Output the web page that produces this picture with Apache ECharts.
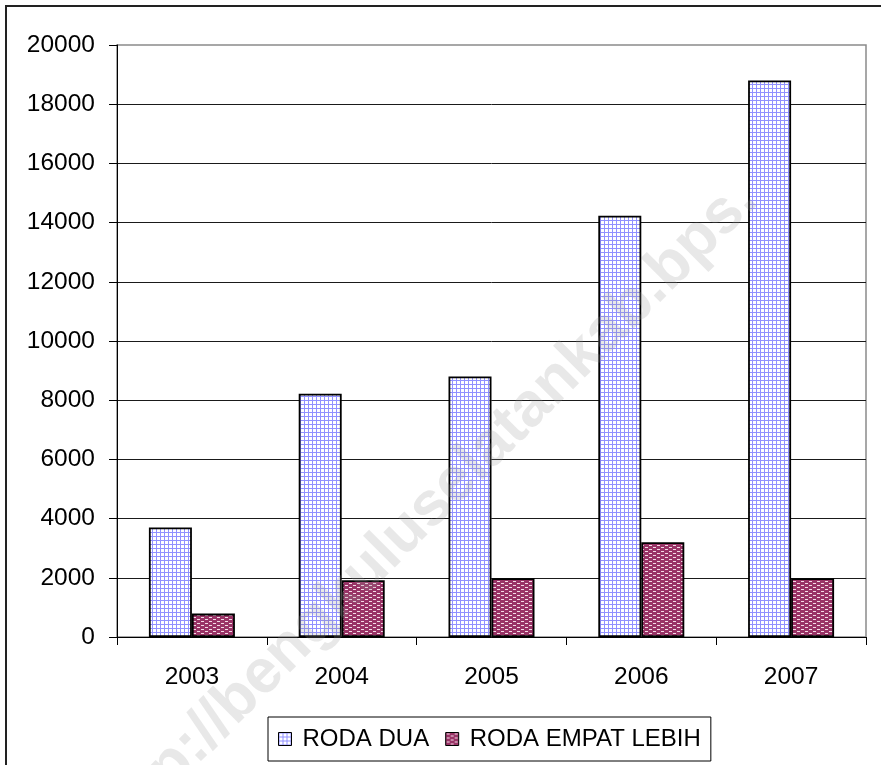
<!DOCTYPE html>
<html>
<head>
<meta charset="utf-8">
<script src="https://cdn.jsdelivr.net/npm/echarts@6/dist/echarts.min.js"></script>
<style>
html,body{margin:0;padding:0;background:#fff;}
#c{width:881px;height:765px;}
</style>
</head>
<body>
<div id="c"></div>
<script>
var categories = ['2003', '2004', '2005', '2006', '2007'];
var rodaDua = [3700, 8220, 8800, 14230, 18800];
var rodaEmpat = [790, 1920, 1985, 3200, 1985];
var seriesNames = ['RODA DUA', 'RODA EMPAT LEBIH'];
var yTicks = { min: 0, max: 20000, interval: 2000 };
var watermarkText = 'http://bengkuluselatankab.bps.';

function gridTile() {
  var c = document.createElement('canvas');
  c.width = 4; c.height = 4;
  var g = c.getContext('2d');
  g.fillStyle = '#ffffff'; g.fillRect(0, 0, 4, 4);
  g.fillStyle = '#9191ff';
  g.fillRect(0, 0, 4, 1);
  g.fillRect(0, 0, 1, 4);
  return c;
}
function dashTile() {
  var c = document.createElement('canvas');
  c.width = 8; c.height = 4;
  var g = c.getContext('2d');
  g.fillStyle = '#993366'; g.fillRect(0, 0, 8, 4);
  g.fillStyle = '#f4dbe6';
  g.fillRect(1, 1, 3, 1);
  g.fillRect(5, 3, 3, 1);
  return c;
}

var font = "'Liberation Sans', Arial, sans-serif";
var chart = echarts.init(document.getElementById('c'), null, { renderer: 'canvas' });
chart.setOption({
  animation: false,
  backgroundColor: '#ffffff',
  grid: {
    left: 117, right: 15, top: 45, bottom: 128,
    show: true, borderColor: '#8a8a8a', borderWidth: 1.5, backgroundColor: 'transparent'
  },
  legend: {
    left: 268, top: 717,
    orient: 'horizontal',
    itemWidth: 13, itemHeight: 13, itemGap: 16,
    padding: [10, 10, 10, 10],
    borderColor: '#000', borderWidth: 1,
    icon: 'rect',
    itemStyle: { borderColor: '#000', borderWidth: 1 },
    textStyle: { fontFamily: font, fontSize: 24, color: '#000', padding: [0, 0, 0, 6] },
    data: seriesNames
  },
  xAxis: {
    type: 'category',
    data: categories,
    boundaryGap: true,
    axisLine: { show: true, lineStyle: { color: '#000', width: 1 } },
    axisTick: { show: true, length: 8, lineStyle: { color: '#000' } },
    axisLabel: { fontFamily: font, fontSize: 24.5, color: '#000', margin: 28 },
    splitLine: { show: false }
  },
  yAxis: {
    type: 'value',
    min: yTicks.min, max: yTicks.max, interval: yTicks.interval,
    axisLine: { show: true, lineStyle: { color: '#000', width: 1 } },
    axisTick: { show: true, length: 8, lineStyle: { color: '#000' } },
    axisLabel: { fontFamily: font, fontSize: 24.5, color: '#000', margin: 22,
      formatter: function (v) { return String(v); } },
    splitLine: { show: true, showMaxLine: false, lineStyle: { color: '#1a1a1a', width: 1 } }
  },
  series: [
    {
      name: seriesNames[0], type: 'bar', data: rodaDua,
      barWidth: 43, barGap: '0%',
      itemStyle: { color: { image: gridTile(), repeat: 'repeat' }, borderColor: '#000', borderWidth: 1.8 }
    },
    {
      name: seriesNames[1], type: 'bar', data: rodaEmpat,
      barWidth: 43, barGap: '0%',
      itemStyle: { color: { image: dashTile(), repeat: 'repeat' }, borderColor: '#000', borderWidth: 1.8 }
    }
  ],
  graphic: [
    {
      type: 'rect', z: 100, silent: true,
      shape: { x: 6, y: 6, width: 1000, height: 1000 },
      style: { fill: 'none', stroke: '#222', lineWidth: 2 }
    },
    {
      type: 'text', z: 101, silent: true,
      x: 102, y: 836, rotation: Math.PI / 4,
      style: {
        text: watermarkText,
        font: 'bold 62px ' + font,
        fill: 'rgba(150,150,150,0.22)',
        textAlign: 'left', textVerticalAlign: 'middle',
        align: 'left', verticalAlign: 'middle'
      }
    }
  ]
});
</script>
</body>
</html>
